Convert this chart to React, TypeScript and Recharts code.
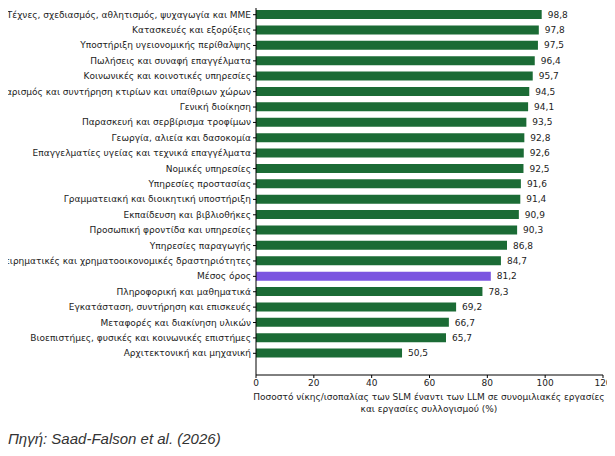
import { BarChart, Bar, XAxis, YAxis, Cell, LabelList } from 'recharts';

const categories = [
  'Τέχνες, σχεδιασμός, αθλητισμός, ψυχαγωγία και ΜΜΕ',
  'Κατασκευές και εξορύξεις',
  'Υποστήριξη υγειονομικής περίθαλψης',
  'Πωλήσεις και συναφή επαγγέλματα',
  'Κοινωνικές και κοινοτικές υπηρεσίες',
  'Καθαρισμός και συντήρηση κτιρίων και υπαίθριων χώρων',
  'Γενική διοίκηση',
  'Παρασκευή και σερβίρισμα τροφίμων',
  'Γεωργία, αλιεία και δασοκομία',
  'Επαγγελματίες υγείας και τεχνικά επαγγέλματα',
  'Νομικές υπηρεσίες',
  'Υπηρεσίες προστασίας',
  'Γραμματειακή και διοικητική υποστήριξη',
  'Εκπαίδευση και βιβλιοθήκες',
  'Προσωπική φροντίδα και υπηρεσίες',
  'Υπηρεσίες παραγωγής',
  'Επιχειρηματικές και χρηματοοικονομικές δραστηριότητες',
  'Μέσος όρος',
  'Πληροφορική και μαθηματικά',
  'Εγκατάσταση, συντήρηση και επισκευές',
  'Μεταφορές και διακίνηση υλικών',
  'Βιοεπιστήμες, φυσικές και κοινωνικές επιστήμες',
  'Αρχιτεκτονική και μηχανική',
];
const values = [98.8, 97.8, 97.5, 96.4, 95.7, 94.5, 94.1, 93.5, 92.8, 92.6, 92.5, 91.6, 91.4, 90.9, 90.3, 86.8, 84.7, 81.2, 78.3, 69.2, 66.7, 65.7, 50.5];
const xTicks = [0, 20, 40, 60, 80, 100, 120];
const averageLabel = 'Μέσος όρος';

const data = categories.map((name, i) => ({ name, value: values[i] }));

const font = 'DejaVu Sans, sans-serif';

const CategoryTick = ({ x, y, payload }: any) => (
  <text x={x} y={y} dy={3} textAnchor="end" fill="#222" fontSize={9} fontFamily={font}>
    {payload.value}
  </text>
);

export default function App() {
  return (
    <div style={{ position: 'relative', width: 615, height: 456, margin: -8, fontFamily: font, background: '#fff', overflow: 'hidden' }}>
      <BarChart
        width={615}
        height={456}
        layout="vertical"
        data={data}
        margin={{ top: 7, right: 12, left: 0, bottom: 51 }}
        barCategoryGap={0}
      >
        <XAxis
          type="number"
          domain={[0, 120]}
          ticks={xTicks}
          tickLine={{ stroke: '#000' }}
          tickSize={3}
          axisLine={{ stroke: '#000' }}
          tick={{ fill: '#222', fontSize: 9, fontFamily: font }}
        />
        <YAxis
          type="category"
          dataKey="name"
          width={256}
          padding={{ top: 0, bottom: 14 }}
          tickLine={{ stroke: '#000' }}
          tickSize={3}
          axisLine={{ stroke: '#000' }}
          tick={<CategoryTick />}
          interval={0}
        />
        <Bar dataKey="value" barSize={9} isAnimationActive={false}>
          {data.map((d) => (
            <Cell key={d.name} fill={d.name === averageLabel ? '#7b55e0' : '#1b6b35'} />
          ))}
          <LabelList
            dataKey="value"
            position="right"
            offset={6}
            formatter={(v: number) => v.toFixed(1).replace('.', ',')}
            style={{ fill: '#222', fontSize: 9, fontFamily: font }}
          />
        </Bar>
      </BarChart>
      <div style={{ position: 'absolute', left: 129, width: 600, top: 391, textAlign: 'center', fontSize: 9, lineHeight: '12px', color: '#222', whiteSpace: 'nowrap' }}>
        Ποσοστό νίκης/ισοπαλίας των SLM έναντι των LLM σε συνομιλιακές εργασίες
        <br />
        και εργασίες συλλογισμού (%)
      </div>
      <div style={{ position: 'absolute', left: 8, top: 430, fontSize: 15, fontStyle: 'italic', color: '#333', fontFamily: 'Liberation Sans, sans-serif' }}>
        Πηγή: Saad-Falson et al. (2026)
      </div>
    </div>
  );
}
